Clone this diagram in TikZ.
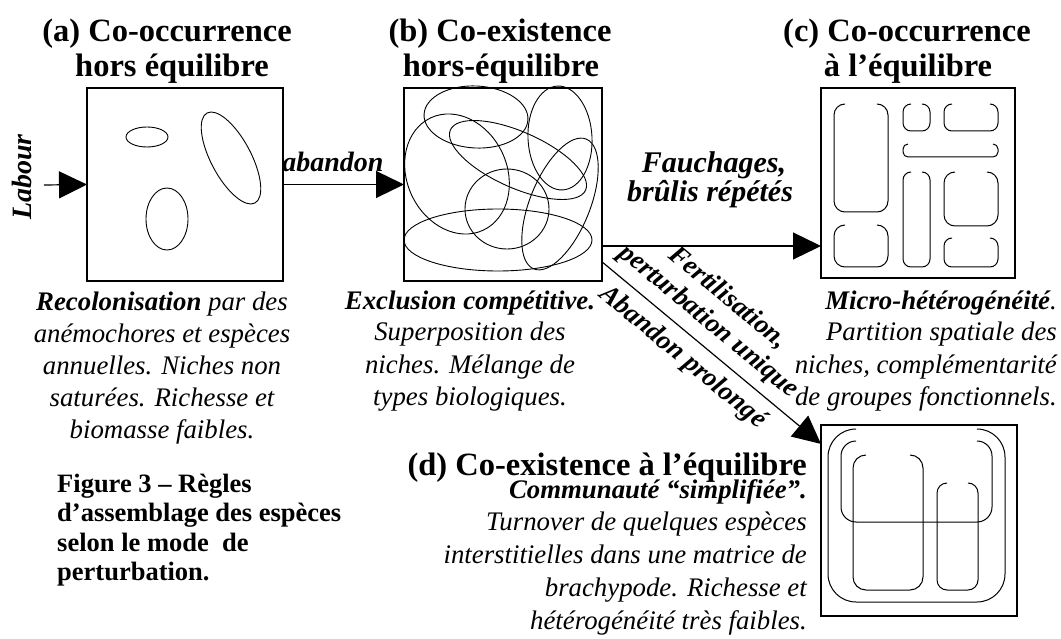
\documentclass[tikz,border=0pt]{standalone}
\usepackage{fontspec}
\setmainfont{Liberation Serif}
\usetikzlibrary{arrows.meta}
\newcommand\opbox[5]{\draw[rbox, rounded corners=#5pt] ({#1+#5},#2) -- (#1,#2) -- (#1,#4) -- (#3,#4) -- (#3,#2) -- ({#3-#5},#2);}
\begin{document}
\begin{tikzpicture}[x=1pt,y=-1pt,
  box/.style={draw, line width=1.2pt, inner sep=0pt, outer sep=0pt},
  shp/.style={line width=0.9pt},
  rbox/.style={line width=1pt},
  arr/.style={line width=1.2pt, -{Triangle[length=28pt,width=27pt]}},
  title/.style={font=\fontsize{32.5}{35}\selectfont\bfseries, inner sep=0pt},
  capt/.style={font=\fontsize{26.8}{32}\selectfont\itshape, inner sep=0pt},
  lbl/.style={font=\fontsize{28}{30}\selectfont\bfseries\itshape, inner sep=0pt},
  flbl/.style={font=\fontsize{30}{30}\selectfont\bfseries\itshape, inner sep=0pt},
  diag/.style={font=\fontsize{27}{30}\selectfont\bfseries\itshape, inner sep=0pt, rotate=-39.7},
  figc/.style={font=\fontsize{26.5}{30}\selectfont\bfseries, inner sep=0pt}]
\useasboundingbox (0,0) rectangle (1061,639);

% boxes
\node[box, minimum width=196pt, minimum height=193pt] (a) at (185,184.5) {};
\node[box, minimum width=198pt, minimum height=193pt] (b) at (503,184.5) {};
\node[box, minimum width=194pt, minimum height=190pt] (c) at (918,183) {};
\node[box, minimum width=196pt, minimum height=191pt] (d) at (919,520.5) {};

% (a) ellipses
\draw[shp] (147,137) ellipse [x radius=21pt, y radius=10pt];
\draw[shp, rotate around={28:(231,158)}] (231,158) ellipse [x radius=20pt, y radius=51pt];
\draw[shp] (167,219) ellipse [x radius=21pt, y radius=31pt];

% (b) ellipses
\draw[shp, rotate around={-3:(476,117)}] (476,117) ellipse [x radius=52pt, y radius=31pt];
\draw[shp, rotate around={25:(457,174)}] (457,174) ellipse [x radius=50pt, y radius=62pt];
\draw[shp, rotate around={-24:(518,160)}] (518,160) ellipse [x radius=74pt, y radius=28pt];
\draw[shp, rotate around={3:(560,138)}] (560,138) ellipse [x radius=32pt, y radius=52pt];
\draw[shp, rotate around={-22:(560,204)}] (560,204) ellipse [x radius=30pt, y radius=70pt];
\draw[shp] (507,209) ellipse [x radius=42pt, y radius=40pt];
\draw[shp] (498,240) ellipse [x radius=94pt, y radius=31pt];

% (c) patches
\opbox{834}{104}{888}{212}{11}
\opbox{903}{104}{930}{131}{8}
\opbox{944}{104}{998}{131}{8}
\opbox{903}{144}{998}{157}{5}
\opbox{903}{172}{930}{267}{8}
\opbox{944}{172}{998}{226}{11}
\opbox{834}{225}{888}{267}{11}
\opbox{944}{238}{998}{267}{8}

% (d) patches
\opbox{828}{429}{1005}{602}{28}
\opbox{841}{441}{992}{522}{15}
\opbox{853}{455}{923}{590}{13}
\opbox{937}{483}{978}{590}{10}

% connectors
\coordinate (lab) at (44,185);
\coordinate (fy) at (0,246);
\draw[arr] (lab) -- (a.west);
\draw[arr] (a.east) -- (b.west);
\draw[arr] (b.east |- fy) -- (c.west |- fy);
\draw[arr] (b.-38) -- (d.142);

% titles
\node[title, anchor=base] (ta1) at (167,42) {(a) Co-occurrence};
\node[title, anchor=base] (ta2) at (172,77) {hors équilibre};
\node[title, anchor=base] (tb1) at (500,42) {(b) Co-existence};
\node[title, anchor=base] (tb2) at (501,77) {hors-équilibre};
\node[title, anchor=base] (tc1) at (907,42) {(c) Co-occurrence};
\node[title, anchor=base] (tc2) at (908,77) {à l’équilibre};
\node[title, anchor=base east] (td) at (807,475) {(d) Co-existence à l’équilibre};

% labels
\node[lbl, rotate=90] (labour) at (22,177) {Labour};
\node[lbl, anchor=base] (aband) at (333,172) {abandon};
\node[flbl, anchor=base] (fau1) at (714,173) {Fauchages,};
\node[flbl, anchor=base] (fau2) at (710,202) {brûlis répétés};
\node[diag] (fert) at (728.2,297.9) {Fertilisation,};
\node[diag] (pert) at (708.4,321.8) {perturbation unique};
\node[diag] (abpr) at (682.5,357.5) {Abandon prolongé};

% captions (a)
\node[capt, anchor=base] (ac1) at (162,310) {\textbf{Recolonisation} par des};
\node[capt, anchor=base] (ac2) at (162,342) {anémochores et espèces};
\node[capt, anchor=base] (ac3) at (162,374) {annuelles. Niches non};
\node[capt, anchor=base] (ac4) at (162,406) {saturées. Richesse et};
\node[capt, anchor=base] (ac5) at (162,438) {biomasse faibles.};

% captions (b)
\node[capt, anchor=base] (bc1) at (470,309) {\textbf{Exclusion compétitive.}};
\node[capt, anchor=base] (bc2) at (470,341) {Superposition des};
\node[capt, anchor=base] (bc3) at (470,373) {niches. Mélange de};
\node[capt, anchor=base] (bc4) at (470,405) {types biologiques.};

% captions (c)
\node[capt, anchor=base east] (cc1) at (1057,309) {\textbf{Micro-hétérogénéité}.};
\node[capt, anchor=base east] (cc2) at (1057,341) {Partition spatiale des};
\node[capt, anchor=base east] (cc3) at (1057,373) {niches, complémentarité};
\node[capt, anchor=base east] (cc4) at (1057,405) {de groupes fonctionnels.};

% captions (d)
\node[capt, anchor=base east] (dc1) at (807,498) {\textbf{Communauté “simplifiée”.}};
\node[capt, anchor=base east] (dc2) at (807,530) {Turnover de quelques espèces};
\node[capt, anchor=base east] (dc3) at (807,563) {interstitielles dans une matrice de};
\node[capt, anchor=base east] (dc4) at (807,596) {brachypode. Richesse et};
\node[capt, anchor=base east] (dc5) at (807,629) {hétérogénéité très faibles.};

% figure caption
\node[figc, anchor=base west] (f1) at (57,492) {Figure 3 – Règles};
\node[figc, anchor=base west] (f2) at (57,521.5) {d’assemblage des espèces};
\node[figc, anchor=base west] (f3) at (57,551) {selon le mode~ de};
\node[figc, anchor=base west] (f4) at (57,580.5) {perturbation.};
\end{tikzpicture}
\end{document}
